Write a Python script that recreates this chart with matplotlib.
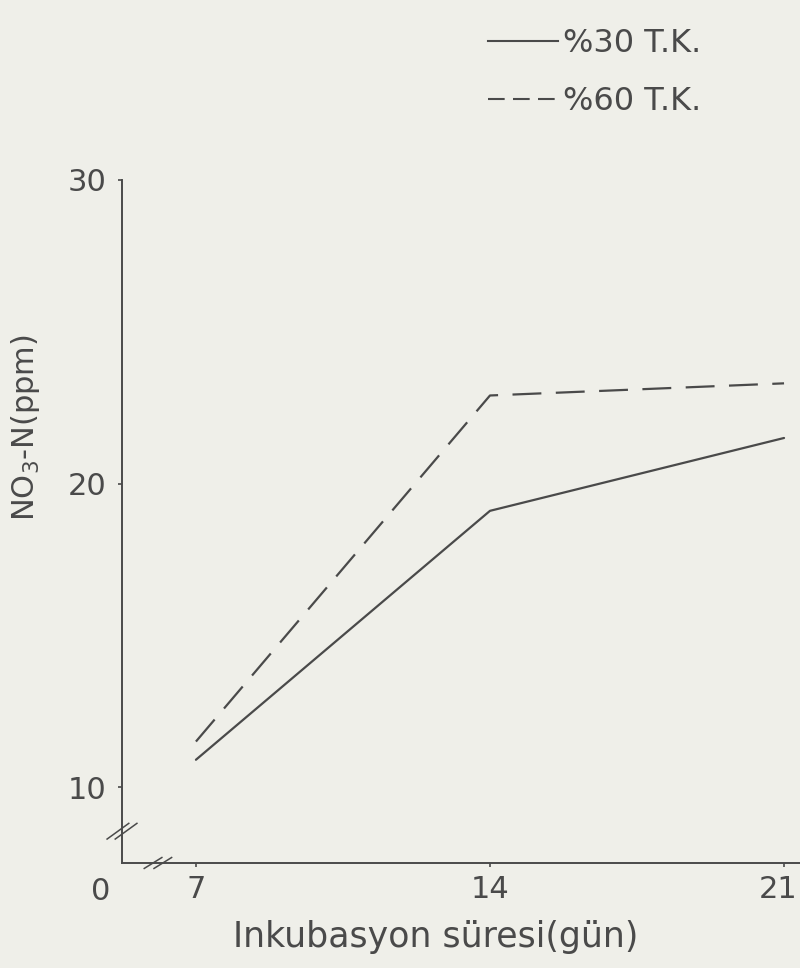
import matplotlib
matplotlib.use("Agg")
import matplotlib.pyplot as plt
from matplotlib.lines import Line2D
from matplotlib.transforms import ScaledTranslation

# incubation days and NO3-N (ppm)
days = [7, 14, 21]
tk30 = [10.9, 19.1, 21.5]
tk60 = [11.5, 22.9, 23.3]
labels = ["%30 T.K.", "%60 T.K."]
yticks = [10, 20, 30]
xticks = [7, 14, 21]

ink = "#4a4a4a"
paper = "#efefe9"
plt.rcParams["font.family"] = ["DejaVu Sans"]

fig = plt.figure(figsize=(8, 9.68), dpi=100, facecolor=paper)
ax = fig.add_axes([0.1525, 0.1085, 0.8475, 0.7056], facecolor=paper)

ax.plot(days, tk30, color=ink, lw=1.6, solid_capstyle="round")
ax.plot(days, tk60, color=ink, lw=1.6, dashes=(13, 6.5))

ax.set_xlim(5.24, 21.38)
ax.set_ylim(7.5, 30)

for side in ["top", "right"]:
    ax.spines[side].set_visible(False)
for side in ["left", "bottom"]:
    ax.spines[side].set_color(ink)
    ax.spines[side].set_linewidth(1.4)

ax.set_yticks(yticks)
ax.set_yticklabels([str(v) for v in yticks])
ax.set_xticks(xticks)
ax.set_xticklabels([str(v) for v in xticks])
ax.tick_params(colors=ink, labelsize=22, length=3, width=1.2)
ax.tick_params(axis="y", pad=8)
ax.tick_params(axis="x", pad=6)

# last x label sits against the right edge in the scan
last = ax.get_xticklabels()[-1]
last.set_transform(last.get_transform() + ScaledTranslation(-0.06, 0, fig.dpi_scale_trans))

# origin label sits left of the corner
ax.text(-0.032, -0.02, "0", transform=ax.transAxes, ha="center", va="top",
        fontsize=22, color=ink)

# axis break marks
for dx in (-0.006, 0.006):
    ax.plot([-0.016 + dx, 0.016 + dx], [0.035, 0.058], transform=ax.transAxes,
            color=ink, lw=1.1, clip_on=False)
    ax.plot([0.04 + dx * 1.2, 0.066 + dx * 1.2], [-0.008, 0.008],
            transform=ax.transAxes, color=ink, lw=1.1, clip_on=False)

ax.set_xlabel("Inkubasyon süresi(gün)", fontsize=25, color=ink)
ax.xaxis.set_label_coords(0.462, -0.083)
ax.set_ylabel(r"NO$_3$-N(ppm)", fontsize=22, color=ink)
ax.yaxis.set_label_coords(-0.118, 0.637)

handles = [Line2D([], [], color=ink, lw=1.5),
           Line2D([], [], color=ink, lw=1.5, dashes=(8, 4))]
fig.legend(handles, labels, loc="upper left", bbox_to_anchor=(0.61, 0.971),
           frameon=False, fontsize=23, labelcolor=ink, handlelength=2.2,
           handletextpad=0.15, labelspacing=0.85, borderpad=0, borderaxespad=0)

fig.savefig("out.png", dpi=100, facecolor=paper)
